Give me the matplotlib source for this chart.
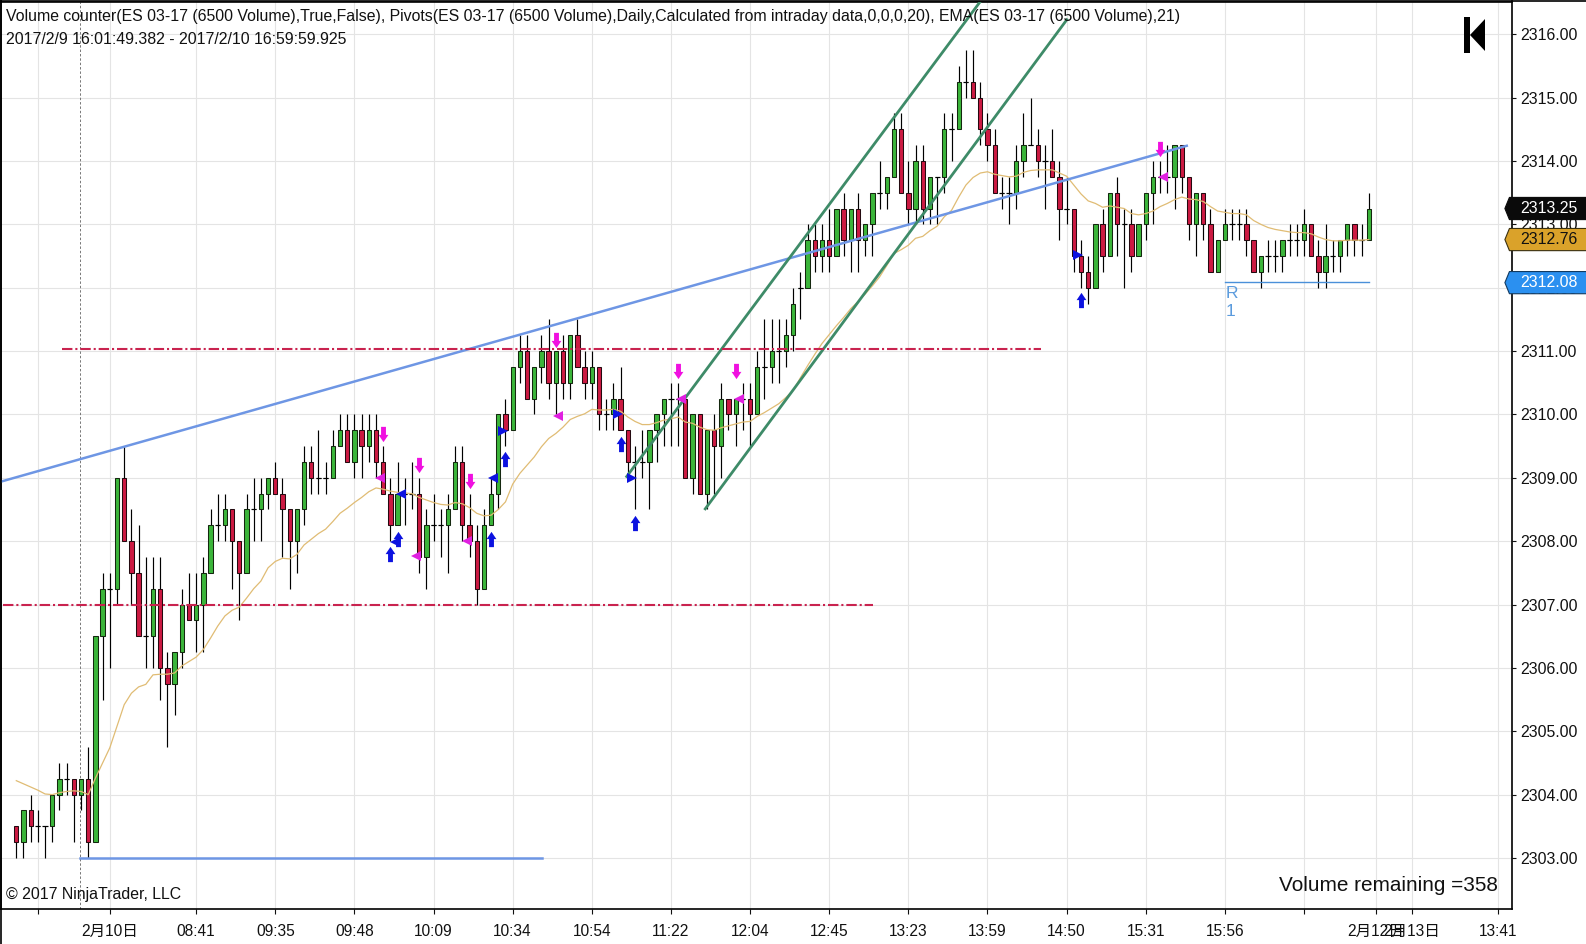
import matplotlib
matplotlib.use('Agg')
import matplotlib.pyplot as plt
import numpy as np
from matplotlib.lines import Line2D
from matplotlib.patches import Polygon
from matplotlib.path import Path

plt.rcParams['font.family'] = ['Liberation Sans', 'Noto Sans CJK SC']

BASE = 2300

opens = BASE + np.array([
    3.5, 3.25, 3.75, 3.5, 3.5, 3.5, 4, 4.25, 4.25, 4,
    4.25, 3.25, 6.5, 7.25, 7.25, 9, 8, 7.5, 6.5, 6.5,
    7.25, 6, 5.75, 6.25, 7, 6.75, 7, 7.5, 8.25, 8.25,
    8.5, 8, 7.5, 8.5, 8.5, 8.75, 9, 8.75, 8.5, 8,
    8.5, 9.25, 9, 9, 9, 9.5, 9.75, 9.25, 9.75, 9.5,
    9.75, 9.25, 8.75, 8.25, 8.75, 8.75, 8.75, 7.75, 8.25, 8.25,
    8.25, 8.5, 9.25, 8.25, 8, 7.25, 8.25, 8.75, 10, 9.75,
    10.75, 11, 10.25, 10.75, 11, 10.5, 11, 10.5, 11.25, 10.75,
    10.5, 10.75, 10, 10, 10.25, 9.75, 9.25, 9.25, 9.25, 9.75,
    10, 10.25, 10.25, 10.25, 9, 10, 8.75, 9.75, 9.5, 10.25,
    10, 10.25, 10.25, 10, 10.75, 10.75, 11, 11, 11.25, 12,
    12, 12.75, 12.5, 12.75, 12.5, 13.25, 12.75, 13.25, 12.75, 13,
    13.5, 13.5, 13.75, 14.5, 13.5, 13.25, 14, 13.25, 13.75, 13.75,
    14.5, 14.5, 15.25, 15.25, 15, 14.5, 14.25, 13.5, 13.5, 13.5,
    14, 14.25, 14.25, 14, 14, 13.75, 13.25, 13.25, 12.5, 12.25,
    12, 13, 12.5, 13.5, 13, 13, 12.5, 13, 13.5, 13.75,
    13.75, 13.75, 14.25, 13.75, 13, 13.5, 13, 12.25, 12.75, 13,
    13, 13, 12.75, 12.25, 12.5, 12.5, 12.5, 12.75, 12.75, 12.75,
    13, 12.5, 12.25, 12.5, 12.5, 12.75, 13, 12.75, 12.75,
])
highs = BASE + np.array([
    3.5, 3.75, 4, 3.75, 3.5, 4, 4.5, 4.5, 4.25, 4.25,
    4.75, 6.5, 7.5, 7.5, 9, 9.5, 8.5, 8.25, 7.75, 7.75,
    7.75, 6.25, 6.25, 7.25, 7.5, 7.5, 7.75, 8.5, 8.75, 8.75,
    8.5, 8, 8.75, 9, 9, 9, 9.25, 9, 8.5, 8.5,
    9.5, 9.5, 9.75, 9.25, 9.75, 10, 10, 10, 10, 10,
    10, 9.5, 9, 9.25, 9, 9.25, 9, 8.5, 8.75, 8.5,
    8.75, 9.5, 9.5, 8.75, 8.25, 8.5, 9, 10, 10.25, 10.75,
    11.25, 11.25, 10.75, 11.25, 11.5, 11, 11.25, 11.25, 11.5, 11,
    11, 10.75, 10.25, 10.5, 10.75, 9.75, 9.5, 9.75, 9.75, 10,
    10.25, 10.5, 10.5, 10.25, 10, 10, 9.75, 10, 10.5, 10.25,
    10.25, 10.5, 10.5, 11, 11.5, 11.5, 11.5, 11.5, 12, 12.25,
    13, 13, 13, 13.25, 13.25, 13.5, 13.25, 13.5, 13, 13.5,
    14, 13.75, 14.75, 14.75, 14, 14.25, 14.25, 13.75, 13.75, 14.75,
    14.75, 15.5, 15.75, 15.75, 15.25, 14.75, 14.5, 13.75, 13.75, 14.25,
    14.75, 15, 14.5, 14.25, 14.5, 14, 13.75, 13.25, 12.75, 12.5,
    13, 13.25, 13.5, 13.75, 13.25, 13.25, 13, 13.5, 14, 14,
    14.25, 14.25, 14.25, 13.75, 13.5, 13.5, 13.25, 12.75, 13.25, 13.25,
    13.25, 13.25, 12.75, 12.5, 12.75, 12.75, 12.75, 13, 13, 13.25,
    13, 12.75, 13, 12.75, 12.75, 13, 13, 13, 13.5,
])
lows = BASE + np.array([
    3, 3, 3.25, 3.25, 3, 3.25, 3.75, 4, 3.25, 3.75,
    3, 3.25, 5.5, 6, 7, 8, 7, 6.5, 6, 6,
    5.5, 4.75, 5.25, 6, 6.75, 6.25, 6.25, 7.5, 8, 8,
    7.25, 6.75, 7.5, 8, 8, 8.5, 8.75, 7.75, 7.25, 7.5,
    8.25, 8.75, 8.75, 8.75, 9, 9.5, 9.25, 9, 9, 9.25,
    9, 8.75, 8, 8.25, 8.25, 8.5, 7.5, 7.25, 8, 7.75,
    7.5, 8.5, 8, 7.75, 7, 7.25, 8.25, 8.5, 9.5, 9.75,
    10.5, 10.25, 10, 10.5, 10.25, 10, 10.25, 10.25, 10.75, 10.25,
    10.25, 9.75, 9.75, 9.75, 9.75, 9, 8.5, 9, 8.5, 9.25,
    9.5, 9.5, 9.5, 9, 8.75, 8.75, 8.5, 8.75, 9, 9.75,
    9.5, 9.75, 9.5, 10, 10.25, 10.5, 10.5, 10.75, 11, 11.5,
    12, 12.25, 12.25, 12.25, 12.5, 12.5, 12.25, 12.25, 12.5, 12.5,
    13.25, 13.25, 13.75, 13.5, 13, 13, 13, 13, 13, 13.5,
    14, 14.5, 15, 15, 14.25, 14, 13.5, 13.25, 13, 13.25,
    13.75, 14.25, 13.75, 13.25, 13.75, 12.75, 13, 12.25, 12, 11.75,
    12, 12.25, 12.5, 12.5, 12, 12.25, 12.5, 12.75, 13, 13.5,
    13.5, 13.25, 13.5, 12.75, 12.5, 12.75, 12.25, 12.25, 12.75, 12.75,
    12.75, 12.5, 12.25, 12, 12.25, 12.25, 12.25, 12.5, 12.5, 12.5,
    12.5, 12, 12, 12.25, 12.25, 12.5, 12.5, 12.5, 12.75,
])
closes = BASE + np.array([
    3.25, 3.75, 3.5, 3.5, 3.5, 4, 4.25, 4.25, 4, 4.25,
    3.25, 6.5, 7.25, 7.25, 9, 8, 7.5, 6.5, 6.5, 7.25,
    6, 5.75, 6.25, 7, 6.75, 7, 7.5, 8.25, 8.25, 8.5,
    8, 7.5, 8.5, 8.5, 8.75, 9, 8.75, 8.5, 8, 8.5,
    9.25, 9, 9, 9, 9.5, 9.75, 9.25, 9.75, 9.5, 9.75,
    9.25, 8.75, 8.25, 8.75, 8.75, 8.75, 7.75, 8.25, 8.25, 8.25,
    8.5, 9.25, 8.25, 8, 7.25, 8.25, 8.75, 10, 9.75, 10.75,
    11, 10.25, 10.75, 11, 10.5, 11, 10.5, 11.25, 10.75, 10.5,
    10.75, 10, 10, 10.25, 9.75, 9.25, 9.25, 9.25, 9.75, 10,
    10.25, 10.25, 10.25, 9, 10, 8.75, 9.75, 9.5, 10.25, 10,
    10.25, 10.25, 10, 10.75, 10.75, 11, 11, 11.25, 11.75, 12,
    12.75, 12.5, 12.75, 12.5, 13.25, 12.75, 13.25, 12.75, 13, 13.5,
    13.5, 13.75, 14.5, 13.5, 13.25, 14, 13.25, 13.75, 13.75, 14.5,
    14.5, 15.25, 15.25, 15, 14.5, 14.25, 13.5, 13.5, 13.5, 14,
    14.25, 14.25, 14, 14, 13.75, 13.25, 13.25, 12.5, 12.25, 12,
    13, 12.5, 13.5, 13, 13, 12.5, 13, 13.5, 13.75, 13.75,
    13.75, 14.25, 13.75, 13, 13.5, 13, 12.25, 12.75, 13, 13,
    13, 12.75, 12.25, 12.5, 12.5, 12.5, 12.75, 12.75, 12.75, 13,
    12.5, 12.25, 12.5, 12.5, 12.75, 13, 12.75, 12.75, 13.25,
])
ema = BASE + np.array([
    4.22, 4.17, 4.12, 4.07, 4.01, 4.0, 4.03, 4.05, 4.06, 4.05,
    4.0, 4.26, 4.5, 4.74, 5.08, 5.42, 5.6, 5.7, 5.74, 5.89,
    5.9, 5.9, 5.92, 6.03, 6.1, 6.17, 6.29, 6.47, 6.66, 6.82,
    6.91, 6.96, 7.1, 7.25, 7.37, 7.58, 7.68, 7.73, 7.72, 7.79,
    7.94, 8.03, 8.12, 8.19, 8.31, 8.44, 8.52, 8.61, 8.69, 8.78,
    8.84, 8.82, 8.79, 8.77, 8.76, 8.75, 8.69, 8.65, 8.61, 8.58,
    8.57, 8.61, 8.59, 8.53, 8.44, 8.4, 8.41, 8.5, 8.62, 8.9,
    9.07, 9.2, 9.33, 9.49, 9.62, 9.7, 9.8, 9.92, 9.97, 10.01,
    10.08, 10.07, 10.07, 10.08, 10.05, 9.96, 9.89, 9.84, 9.84, 9.87,
    9.91, 9.93, 9.96, 9.88, 9.86, 9.8, 9.76, 9.75, 9.79, 9.82,
    9.85, 9.88, 9.89, 9.97, 10.03, 10.1, 10.17, 10.27, 10.38, 10.58,
    10.77, 10.95, 11.12, 11.26, 11.4, 11.53, 11.67, 11.78, 11.9, 12.03,
    12.17, 12.35, 12.54, 12.6, 12.67, 12.78, 12.81, 12.9, 12.97, 13.12,
    13.22, 13.43, 13.62, 13.74, 13.81, 13.83, 13.79, 13.77, 13.75, 13.76,
    13.82, 13.85, 13.86, 13.86, 13.86, 13.81, 13.76, 13.62, 13.48, 13.37,
    13.33, 13.27, 13.29, 13.27, 13.25, 13.17, 13.15, 13.17, 13.21, 13.28,
    13.33, 13.39, 13.43, 13.4, 13.39, 13.36, 13.28, 13.21, 13.19, 13.17,
    13.17, 13.15, 13.06, 13.0, 12.95, 12.92, 12.9, 12.88, 12.87, 12.87,
    12.85, 12.8, 12.76, 12.74, 12.74, 12.75, 12.75, 12.75, 12.76,
])

# signal arrows and small triangles: (bar, price)
down_arrows = [(51, 2309.69), (56, 2309.2), (63, 2308.95), (75, 2311.17),
               (92, 2310.68), (100, 2310.69), (159, 2314.19)]
up_arrows = [(52, 2307.79), (53, 2308.04), (66, 2308.04), (68, 2309.29),
             (84, 2309.54), (86, 2308.29), (148, 2311.8)]
pink_left = [(50.6, 2308.99), (55.5, 2307.76), (62.7, 2308.0), (75.3, 2309.98),
             (92.4, 2310.25), (100.4, 2310.25), (159.4, 2313.74)]
blue_left = [(53.5, 2308.74), (52.7, 2307.98), (66.3, 2309.0)]
blue_right = [(67.6, 2309.74), (83.7, 2310.0), (85.6, 2308.99), (147.6, 2312.51)]

price_ticks = list(range(2303, 2317))
time_ticks = [3, 13, 25, 36, 47, 58, 69, 80, 91, 102, 113, 124, 135, 146, 157, 168,
              179, 189, 194, 206]
time_labels = ['', '2月10日', '08:41', '09:35', '09:48', '10:09', '10:34', '10:54',
               '11:22', '12:04', '12:45', '13:23', '13:59', '14:50', '15:31', '15:56',
               '', '2月12日', '2月13日', '13:41']

W, H = 1586, 944
fig = plt.figure(figsize=(W / 100, H / 100), dpi=100, facecolor='white')
ax = fig.add_axes([1 / W, (H - 909.3) / H, 1510.7 / W, 907.8 / H])
ax.set_xlim(-2.127, 207.87)
ax.set_ylim(2302.19, 2316.517)

ax.set_axisbelow(True)
ax.grid(True, color='#E4E4E4', lw=0.8)
ax.yaxis.tick_right()
ax.set_yticks(price_ticks)
ax.set_yticklabels([f'{p}.00' for p in price_ticks])
ax.set_xticks(time_ticks)
ax.set_xticklabels(time_labels)
ax.tick_params(axis='y', length=3, width=0.8, pad=3, labelsize=11.4, colors='#111111')
ax.tick_params(axis='x', length=3.5, width=0.8, pad=7, labelsize=11.2, colors='#111111')
for s in ax.spines.values():
    s.set_linewidth(1.2)

# session break
ax.axvline(8.9, color='#777777', lw=0.7, ls=(0, (2.5, 2)), zorder=1.5)

# candles
x = np.arange(len(closes))
up = closes >= opens
bottoms = np.minimum(opens, closes)
heights = np.abs(closes - opens)
ax.vlines(x, lows, highs, color='black', lw=0.85, zorder=2)
ax.bar(x[up], heights[up], bottom=bottoms[up], width=0.6, color='#3BB53A',
       edgecolor='#14280F', lw=0.75, zorder=3)
ax.bar(x[~up], heights[~up], bottom=bottoms[~up], width=0.6, color='#CC1A42',
       edgecolor='#240A10', lw=0.75, zorder=3)
flat = heights == 0
ax.hlines(closes[flat], x[flat] - 0.36, x[flat] + 0.36, color='black', lw=0.85, zorder=3)

ax.plot(x, ema, color='#E0BC74', lw=0.9, zorder=4)

# drawing tools
ax.plot([-2.127, 162.7], [2308.94, 2314.24], color='#6E96E4', lw=1.8, zorder=5)
ax.plot([8.9, 73.05], [2303, 2303], color='#6E96E4', lw=1.8, zorder=5)
ax.plot([84.85, 133.96], [2309.02, 2316.51], color='#3E8B68', lw=2.0, zorder=5)
ax.plot([95.77, 146.03], [2308.51, 2316.23], color='#3E8B68', lw=2.0, zorder=5)
ax.plot([6.3, 142.4], [2311.03, 2311.03], color='#C9234F', lw=1.5,
        ls=(0, (5, 1.4, 1, 1.4)), zorder=5)
ax.plot([-1.9, 119.1], [2307, 2307], color='#C9234F', lw=1.5,
        ls=(0, (5, 1.4, 1, 1.4)), zorder=5)
ax.plot([168, 188], [2312.09, 2312.09], color='#4A90D9', lw=1.0, zorder=5)
ax.text(168.1, 2312.03, 'R\n1', color='#5B9BDD', fontsize=12.5, va='top', ha='left',
        linespacing=1.3, zorder=5)

# signals
arrow_up = Path([(-0.32, -1), (0.32, -1), (0.32, 0.05), (0.64, 0.05), (0, 1),
                 (-0.64, 0.05), (-0.32, 0.05), (-0.32, -1)], closed=True)
arrow_down = Path([(-0.32, 1), (0.32, 1), (0.32, -0.05), (0.64, -0.05), (0, -1),
                   (-0.64, -0.05), (-0.32, -0.05), (-0.32, 1)], closed=True)


def scatter_marks(points, marker, color, size):
    xs, ys = zip(*points)
    ax.plot(xs, ys, ls='none', marker=marker, color=color, ms=size, mew=0, zorder=6)


scatter_marks(down_arrows, arrow_down, '#F010E0', 11)
scatter_marks(up_arrows, arrow_up, '#0C12E0', 11)
scatter_marks(pink_left, '<', '#E020E0', 6.5)
scatter_marks(blue_left, '<', '#0C12E0', 6.5)
scatter_marks(blue_right, '>', '#0C12E0', 6.5)


def price_box(price, face, text_color, edge):
    # the flags sit over the axis, x in axes fraction, y in price
    tr = ax.get_yaxis_transform()
    half = 0.175
    ax.add_patch(Polygon([(0.9955, price), (0.9985, price + half), (1.05, price + half),
                          (1.05, price - half), (0.9985, price - half)],
                         closed=True, transform=tr, clip_on=False, facecolor=face,
                         edgecolor=edge, lw=0.8, zorder=10))
    ax.text(1.0057, price, f'{price:.2f}', transform=tr, color=text_color, fontsize=11.4,
            ha='left', va='center', zorder=11, clip_on=False)


price_box(2313.25, '#0A0A0A', 'white', '#0A0A0A')
price_box(2312.76, '#DAA22A', '#111111', '#3A3010')
price_box(2312.08, '#2B90F0', 'white', '#123A60')

# collapse glyph, top right
logo_bar = [(1464, 17), (1470, 17), (1470, 53), (1464, 53)]
logo_tri = [(1470, 35), (1485, 19), (1485, 51)]
for pts in (logo_bar, logo_tri):
    fig.add_artist(Polygon([(px / W, 1 - py / H) for px, py in pts], closed=True,
                           transform=fig.transFigure, facecolor='black', edgecolor='none'))

header_1 = ('Volume counter(ES 03-17 (6500 Volume),True,False), Pivots(ES 03-17 (6500 Volume),'
            'Daily,Calculated from intraday data,0,0,0,20), EMA(ES 03-17 (6500 Volume),21)')
header_2 = '2017/2/9 16:01:49.382 - 2017/2/10 16:59:59.925'
fig.text(6 / W, 1 - 17 / H, header_1, fontsize=11.44, va='center', color='#111111')
fig.text(6 / W, 1 - 40 / H, header_2, fontsize=11.44, va='center', color='#111111')
fig.text(5.6 / W, 1 - 895 / H, '© 2017 NinjaTrader, LLC', fontsize=11.44, va='center',
         color='#111111')
fig.text(1498 / W, 1 - 885.5 / H, 'Volume remaining =358', fontsize=14.95, va='center',
         ha='right', color='#111111')

# window frame runs past the plot area
fig.add_artist(Line2D([0, 1], [1 - 1 / H, 1 - 1 / H], color='black', lw=1.2))
fig.add_artist(Line2D([1 / W, 1 / W], [0, 1], color='black', lw=1.2))

fig.savefig('out.png', dpi=100, facecolor='white')
